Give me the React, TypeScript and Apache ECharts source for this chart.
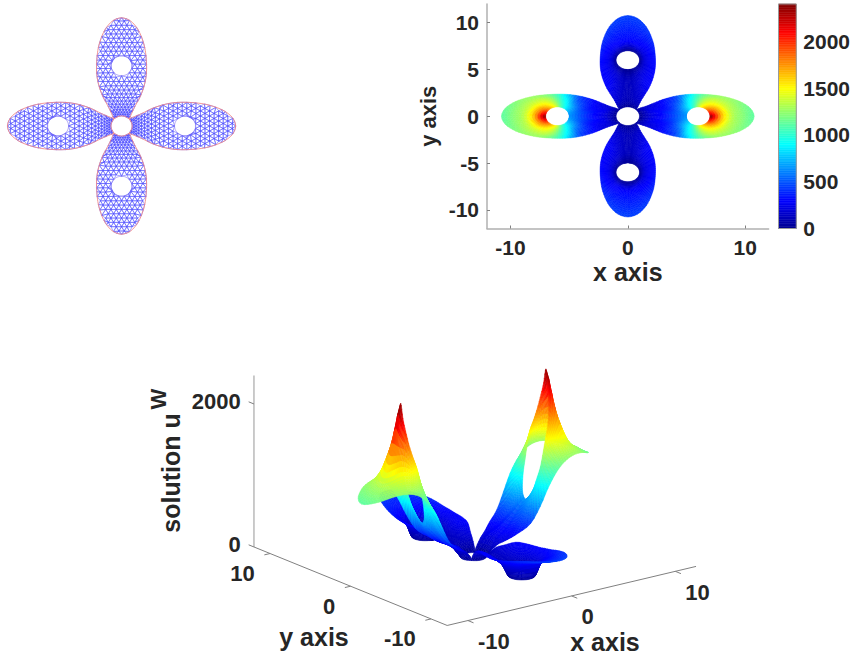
import React, { useEffect, useRef } from "react";
import * as echarts from "echarts";

// ---------- data ----------
const valueMin = 0;
const valueMax = 2400;
const colorbarTicks = [0, 500, 1000, 1500, 2000];
const planXTicks = [-10, 0, 10];
const planYTicks = [-10, -5, 0, 5, 10];
const solidXTicks = [-10, 0, 10];
const solidYTicks = [-10, 0, 10];
const solidZTicks = [0, 2000];

// Top half of one petal, from its tip to where it meets the central hole (axis distance, half width)
const petalAxis = [10.77, 10.48, 9.81, 9.03, 8.02, 7.28, 6.62, 6, 5.37, 4.69, 3.88, 2.97, 2.19, 1.7, 1.05, 0.7];
const petalHalf = [0, 0.81, 1.42, 1.82, 2.14, 2.27, 2.33, 2.36, 2.35, 2.28, 2.1, 1.78, 1.39, 1.14, 0.87, 0.71];
const centralArcAxis = [0.8, 0.92, 0.98, 1];
const centralArcHalf = [0.6, 0.38, 0.19, 0];
const petalHoleAt = 6;
const petalHoleRadius = 1;
const centralRimShare = 0.12; // the surface falls to about this share of its value on the central hole's rim
const centralRimReach = 0.9; // ... over this distance from the rim

// Solution on a petal: rows are angles round the petal's hole (0, 15 ... 180 degrees, 0 = pointing at the tip),
// columns go from the hole's rim (left) to the petal's outline (right).
const xPetalValues = [
  [2400, 1700, 1340, 1220, 1120],
  [2180, 1720, 1380, 1250, 1170],
  [2000, 1720, 1450, 1310, 1240],
  [1820, 1640, 1460, 1340, 1260],
  [1670, 1530, 1420, 1330, 1230],
  [1540, 1420, 1330, 1250, 1160],
  [1350, 1260, 1180, 1110, 1050],
  [1130, 1060, 1000, 950, 890],
  [980, 920, 860, 780, 660],
  [830, 790, 640, 510, 440],
  [740, 640, 490, 390, 320],
  [680, 520, 360, 270, 200],
  [650, 470, 320, 220, 100],
];
const yPetalValues = [
  [20, 280, 350, 400, 450],
  [20, 270, 340, 390, 440],
  [20, 250, 320, 370, 420],
  [20, 210, 290, 340, 390],
  [20, 190, 270, 320, 360],
  [20, 175, 255, 300, 335],
  [20, 170, 250, 290, 320],
  [20, 165, 240, 280, 305],
  [20, 160, 235, 280, 300],
  [20, 160, 235, 280, 300],
  [20, 150, 220, 270, 290],
  [20, 130, 170, 190, 200],
  [20, 120, 125, 120, 100],
];

// ---------- colour map ----------
const jetStops: [number, number[]][] = [
  [0, [0, 0, 143]],
  [0.125, [0, 0, 255]],
  [0.375, [0, 255, 255]],
  [0.625, [255, 255, 0]],
  [0.875, [255, 0, 0]],
  [1, [128, 0, 0]],
];
function jet(v: number) {
  const t = Math.max(0, Math.min(1, (v - valueMin) / (valueMax - valueMin)));
  for (let i = 1; i < jetStops.length; i++) {
    if (t <= jetStops[i][0]) {
      const [a, ca] = jetStops[i - 1];
      const [b, cb] = jetStops[i];
      const k = (t - a) / (b - a);
      return `rgb(${ca.map((c, j) => Math.round(c + (cb[j] - c) * k)).join(",")})`;
    }
  }
  return "rgb(128,0,0)";
}

// ---------- domain built from the outline and the tables ----------
type P = [number, number];
const cr = (a: number, b: number, c: number, d: number, t: number) =>
  0.5 * (2 * b + (c - a) * t + (2 * a - 5 * b + 4 * c - d) * t * t + (3 * b - a - 3 * c + d) * t * t * t);

const OUTLINE_SUB = 3;
function smoothOutline(): P[] {
  const n = petalAxis.length;
  const out: P[] = [];
  for (let i = 0; i < n - 1; i++) {
    const g = (k: number): P => {
      if (k < 0) return [petalAxis[1], -petalHalf[1]];
      return [petalAxis[Math.min(n - 1, k)], petalHalf[Math.min(n - 1, k)]];
    };
    for (let s = 0; s < OUTLINE_SUB; s++) {
      const t = s / OUTLINE_SUB;
      out.push([
        cr(g(i - 1)[0], g(i)[0], g(i + 1)[0], g(i + 2)[0], t),
        cr(g(i - 1)[1], g(i)[1], g(i + 1)[1], g(i + 2)[1], t),
      ]);
    }
  }
  out.push([petalAxis[n - 1], petalHalf[n - 1]]);
  centralArcAxis.forEach((a, i) => out.push([a, centralArcHalf[i]]));
  return out;
}
const topHalf = smoothOutline();
const outlineLoop: P[] = [...topHalf, ...topHalf.slice(1, -1).reverse().map(([a, h]) => [a, -h] as P)];

function meshPoint(col: number, rho: number): P {
  const [a, h] = outlineLoop[((col % outlineLoop.length) + outlineLoop.length) % outlineLoop.length];
  const u = a - petalHoleAt;
  const len = Math.hypot(u, h);
  const ra = petalHoleAt + (u / len) * petalHoleRadius;
  const rh = (h / len) * petalHoleRadius;
  return [ra + (a - ra) * rho, rh + (h - rh) * rho];
}
const angleOf = (p: P) => (Math.atan2(Math.abs(p[1]), p[0] - petalHoleAt) * 180) / Math.PI;

function bicubic(table: number[][], theta: number, rho: number) {
  const tf = (theta / 180) * (table.length - 1);
  const rf = rho * (table[0].length - 1);
  const ti = Math.min(table.length - 2, Math.floor(tf));
  const ri = Math.min(table[0].length - 2, Math.floor(rf));
  const rowAt = (k: number) => table[k < 0 ? -k : k > table.length - 1 ? 2 * (table.length - 1) - k : k];
  const colAt = (row: number[], k: number) => row[Math.max(0, Math.min(row.length - 1, k))];
  const along = (row: number[]) =>
    cr(colAt(row, ri - 1), colAt(row, ri), colAt(row, ri + 1), colAt(row, ri + 2), rf - ri);
  return cr(along(rowAt(ti - 1)), along(rowAt(ti)), along(rowAt(ti + 1)), along(rowAt(ti + 2)), tf - ti);
}

type Place = (a: number, b: number) => P;
const petals: { place: Place; table: number[][] }[] = [
  { place: (a, b) => [a, b], table: xPetalValues },
  { place: (a, b) => [-a, b], table: xPetalValues },
  { place: (a, b) => [b, a], table: yPetalValues },
  { place: (a, b) => [b, -a], table: yPetalValues },
];

const ROWS = 16;
type Cell = { corners: P[]; value: number[]; mean: number };
const cells: Cell[] = [];
petals.forEach(({ place, table }) => {
  const n = outlineLoop.length;
  const valueAt = (col: number, rho: number) => {
    const m = meshPoint(col, rho);
    const near = Math.min(1, Math.max(0, Math.hypot(m[0], m[1]) - 1) / centralRimReach);
    const fall = centralRimShare + (1 - centralRimShare) * Math.sqrt(near);
    return Math.max(valueMin, bicubic(table, angleOf(outlineLoop[col % n]), rho) * fall);
  };
  for (let c = 0; c < n; c++) {
    for (let r = 0; r < ROWS; r++) {
      const r0 = r / ROWS;
      const r1 = (r + 1) / ROWS;
      const pts: [number, number][] = [[c, r0], [c + 1, r0], [c + 1, r1], [c, r1]];
      const value = pts.map(([cc, rr]) => valueAt(cc, rr));
      cells.push({
        corners: pts.map(([cc, rr]) => {
          const m = meshPoint(cc, rr);
          return place(m[0], m[1]);
        }),
        value,
        mean: value.reduce((s, v) => s + v, 0) / 4,
      });
    }
  }
});

const view = { xx: 10.37, xy: -8.05, yx: 2.46, yy: 3.27, z: 0.0715 };
const surfaceShift: P = [-1.7, -1];
const project = (x: number, y: number, z: number): P => [
  view.xx * x + view.xy * y,
  view.yx * x + view.yy * y + view.z * z,
];
const depth = (x: number, y: number, z: number) => -0.583 * x - 0.751 * y + 0.00177 * z;

const solidOrder = cells
  .map((c, i) => {
    const cx = c.corners.reduce((s, p) => s + p[0], 0) / 4;
    const cy = c.corners.reduce((s, p) => s + p[1], 0) / 4;
    return { i, d: depth(cx, cy, c.mean), cx, cy };
  })
  .sort((a, b) => a.d - b.d);

// ---------- triangulation shown in the upper left plot ----------
const EDGE = 0.5;
const ROW_STEP = 0.43;
const BAND = 0.24;
function outlineRadius(theta: number) {
  for (let i = 1; i < topHalf.length; i++) {
    const a0 = angleOf(topHalf[i - 1]);
    const a1 = angleOf(topHalf[i]);
    if (theta <= a1 || i === topHalf.length - 1) {
      const k = a1 === a0 ? 0 : Math.max(0, Math.min(1, (theta - a0) / (a1 - a0)));
      const r0 = Math.hypot(topHalf[i - 1][0] - petalHoleAt, topHalf[i - 1][1]);
      const r1 = Math.hypot(topHalf[i][0] - petalHoleAt, topHalf[i][1]);
      return r0 + (r1 - r0) * k;
    }
  }
  return 5;
}
function latticeNode(i: number, j: number): P | null {
  const w = 4 + i * ROW_STEP;
  const q = w >= 4 ? 0 : Math.min(1, (4 - w) / 5.08);
  const a = w >= 4 ? w : 4 - 5.08 * (q - 0.35 * q * q);
  const scale = 1 - 0.7 * q;
  const b = (j + (i & 1 ? 0.5 : 0)) * EDGE * scale;
  const u = a - petalHoleAt;
  const r = Math.hypot(u, b) || 1e-6;
  const R = outlineRadius((Math.atan2(Math.abs(b), u) * 180) / Math.PI);
  const band = BAND * scale;
  let rr = r;
  if (r < petalHoleRadius - band || r > R + band) return null;
  if (r < petalHoleRadius + band) rr = petalHoleRadius;
  else if (r > R - band) rr = R;
  return [petalHoleAt + (u / r) * rr, (b / r) * rr];
}
const triangles: P[][] = [];
petals.forEach(({ place }) => {
  for (let i = -13; i <= 17; i++) {
    for (let j = -16; j <= 16; j++) {
      const shift = i & 1 ? 1 : 0;
      const p = latticeNode(i, j);
      const q = latticeNode(i, j + 1);
      const s = latticeNode(i + 1, j + shift);
      const t = latticeNode(i + 1, j + shift - 1);
      const mapped = (pts: (P | null)[]) => {
        if (pts.some((x) => !x)) return;
        const m = pts.map((x) => place((x as P)[0], (x as P)[1]));
        triangles.push([...m, m[0]]);
      };
      mapped([p, q, s]);
      mapped([p, s, t]);
    }
  }
});
const holeRims: P[][] = [];
const outerRims: P[][] = [];
petals.forEach(({ place }) => {
  const n = outlineLoop.length;
  const inner: P[] = [];
  const outer: P[] = [];
  for (let c = 0; c <= n; c++) {
    const m0 = meshPoint(c, 0);
    const m1 = meshPoint(c, 1);
    inner.push(place(m0[0], m0[1]));
    outer.push(place(m1[0], m1[1]));
  }
  holeRims.push(inner);
  outerRims.push(outer);
});

const FONT = "Liberation Sans";
const INK = "#262626";

function polygonItem(api: any, corners: number[][], fill: string) {
  return {
    type: "polygon",
    silent: true,
    shape: { points: corners.map((p) => api.coord(p)) },
    style: { fill, stroke: fill, lineWidth: 0.5 },
  };
}
function polylineItem(api: any, pts: number[][], stroke: string, lineWidth: number) {
  return {
    type: "polyline",
    silent: true,
    shape: { points: pts.map((p) => api.coord(p)) },
    style: { stroke, lineWidth, fill: "none" },
  };
}

// ---------- lower plot furniture ----------
const solidLines: { from: number[]; to: number[]; stroke: string; w: number }[] = [
  { from: [-12, 12, 0], to: [-12, 12, 2400], stroke: "#b4b4b4", w: 1.4 },
  { from: [-12, 12, 0], to: [-12, -12, 0], stroke: "#808080", w: 1 },
  { from: [-12, -12, 0], to: [12, -12, 0], stroke: "#808080", w: 1 },
  ...solidZTicks.map((z) => ({ from: [-12, 12, z], to: [-12, 12.66, z], stroke: "#808080", w: 1 })),
  ...solidYTicks.map((y) => ({ from: [-12, y, 0], to: [-12.55, y, 0], stroke: "#808080", w: 1 })),
  ...solidXTicks.map((x) => ({ from: [x, -12, 0], to: [x, -12.7, 0], stroke: "#808080", w: 1 })),
];
const solidLabels = [
  ...solidZTicks.map((z) => ({ at: [-12, 12, z], text: String(z), dx: -13.3, dy: -2, align: "right" })),
  ...solidYTicks.map((y) => ({ at: [-12, y, 0], text: String(y), dx: -15.3, dy: 20, align: "right" })),
  ...solidXTicks.map((x) => ({ at: [x, -12, 0], text: String(x), dx: 10, dy: 21, align: "left" })),
];

function titleText(text: string, x: number, y: number, size: number, rotation = 0) {
  return {
    type: "text",
    x,
    y,
    rotation,
    silent: true,
    style: {
      text,
      fill: INK,
      font: `bold ${size}px "${FONT}"`,
      align: "center",
      verticalAlign: "middle",
      textAlign: "center",
      textVerticalAlign: "middle",
    },
  };
}

function buildOption() {
  const hidden = { show: false };
  const planAxisCommon = {
    type: "value",
    min: -12,
    max: 12,
    axisLine: { show: true, onZero: false, lineStyle: { color: "#b0b0b0", width: 1.5 } },
    splitLine: { show: false },
  };
  return {
    animation: false,
    backgroundColor: "#ffffff",
    grid: [
      { left: 0.7, top: 5.4, width: 241.7, height: 241.2 },
      { left: 487, top: 4, width: 281.6, height: 224.5 },
      { left: 778.5, top: 4, width: 19.5, height: 224.5 },
      { left: 150, top: 370, width: 600, height: 287 },
    ],
    xAxis: [
      { gridIndex: 0, type: "value", min: -11.4, max: 11.4, ...hidden },
      {
        ...planAxisCommon,
        gridIndex: 1,
        name: "x axis",
        nameLocation: "middle",
        nameGap: 31,
        nameTextStyle: { color: INK, fontFamily: FONT, fontWeight: "bold", fontSize: 25 },
        axisTick: { inside: true, length: 3, lineStyle: { color: "#808080" }, customValues: planXTicks },
        axisLabel: { color: INK, fontFamily: FONT, fontWeight: "bold", fontSize: 21, margin: 8, customValues: planXTicks, formatter: (v: number) => String(v) },
      },
      { gridIndex: 2, type: "value", min: 0, max: 1, ...hidden },
      { gridIndex: 3, type: "value", min: -325, max: 275, ...hidden },
    ],
    yAxis: [
      { gridIndex: 0, type: "value", min: -12, max: 12, ...hidden },
      {
        ...planAxisCommon,
        gridIndex: 1,
        name: "y axis",
        nameLocation: "middle",
        nameGap: 48,
        nameTextStyle: { color: INK, fontFamily: FONT, fontWeight: "bold", fontSize: 22 },
        axisTick: { inside: true, length: 3, lineStyle: { color: "#808080" }, customValues: planYTicks },
        axisLabel: { color: INK, fontFamily: FONT, fontWeight: "bold", fontSize: 21, margin: 8, customValues: planYTicks, formatter: (v: number) => String(v) },
      },
      {
        gridIndex: 2,
        type: "value",
        min: valueMin,
        max: valueMax,
        position: "right",
        axisLine: { show: false },
        axisTick: { show: false },
        splitLine: { show: false },
        axisLabel: { color: INK, fontFamily: FONT, fontWeight: "bold", fontSize: 21, margin: 7, customValues: colorbarTicks, formatter: (v: number) => String(v) },
      },
      { gridIndex: 3, type: "value", min: -100.3, max: 186.7, ...hidden },
    ],
    series: [
      // mesh
      {
        type: "custom",
        coordinateSystem: "cartesian2d",
        xAxisIndex: 0,
        yAxisIndex: 0,
        silent: true,
        data: triangles.map((_, i) => [0, 0, i]),
        renderItem: (_p: any, api: any) => polylineItem(api, triangles[api.value(2)], "#4a4aff", 0.5),
      },
      {
        type: "custom",
        coordinateSystem: "cartesian2d",
        xAxisIndex: 0,
        yAxisIndex: 0,
        silent: true,
        data: holeRims.map((_, i) => [0, 0, i]),
        renderItem: (_p: any, api: any) => polylineItem(api, holeRims[api.value(2)], "#8a7af0", 0.7),
      },
      {
        type: "custom",
        coordinateSystem: "cartesian2d",
        xAxisIndex: 0,
        yAxisIndex: 0,
        silent: true,
        data: outerRims.map((_, i) => [0, 0, i]),
        renderItem: (_p: any, api: any) => polylineItem(api, outerRims[api.value(2)], "#f08a8a", 0.9),
      },
      // plan view
      {
        type: "custom",
        coordinateSystem: "cartesian2d",
        xAxisIndex: 1,
        yAxisIndex: 1,
        silent: true,
        data: cells.map((c, i) => [c.corners[0][0], c.corners[0][1], c.mean, i]),
        renderItem: (_p: any, api: any) => {
          const c = cells[api.value(3)];
          return polygonItem(api, c.corners, jet(c.mean));
        },
      },
      // colour bar
      {
        type: "custom",
        coordinateSystem: "cartesian2d",
        xAxisIndex: 2,
        yAxisIndex: 2,
        silent: true,
        data: Array.from({ length: 128 }, (_, i) => [0, (i / 128) * valueMax, ((i + 1) / 128) * valueMax]),
        renderItem: (_p: any, api: any) => {
          const lo = api.value(1);
          const hi = api.value(2);
          return polygonItem(api, [[0, lo], [1, lo], [1, hi], [0, hi]], jet((lo + hi) / 2));
        },
      },
      {
        type: "custom",
        coordinateSystem: "cartesian2d",
        xAxisIndex: 2,
        yAxisIndex: 2,
        silent: true,
        data: [[0, 0]],
        renderItem: (_p: any, api: any) =>
          polylineItem(api, [[0, valueMin], [1, valueMin], [1, valueMax], [0, valueMax], [0, valueMin]], "#9a9a9a", 1),
      },
      // solid: axes
      {
        type: "custom",
        coordinateSystem: "cartesian2d",
        xAxisIndex: 3,
        yAxisIndex: 3,
        silent: true,
        data: solidLines.map((_, i) => [0, 0, i]),
        renderItem: (_p: any, api: any) => {
          const l = solidLines[api.value(2)];
          return polylineItem(api, [project(l.from[0], l.from[1], l.from[2]), project(l.to[0], l.to[1], l.to[2])], l.stroke, l.w);
        },
      },
      // solid: surface, far cells first
      {
        type: "custom",
        coordinateSystem: "cartesian2d",
        xAxisIndex: 3,
        yAxisIndex: 3,
        silent: true,
        data: solidOrder.map((o) => [o.cx, o.cy, cells[o.i].mean, o.i]),
        renderItem: (_p: any, api: any) => {
          const c = cells[api.value(3)];
          return polygonItem(
            api,
            c.corners.map((p, k) => {
              const s = project(p[0], p[1], c.value[k]);
              return [s[0] + surfaceShift[0], s[1] + surfaceShift[1]];
            }),
            jet(c.mean),
          );
        },
      },
      // solid: tick labels
      {
        type: "custom",
        coordinateSystem: "cartesian2d",
        xAxisIndex: 3,
        yAxisIndex: 3,
        silent: true,
        data: solidLabels.map((_, i) => [0, 0, i]),
        renderItem: (_p: any, api: any) => {
          const l = solidLabels[api.value(2)];
          const p = api.coord(project(l.at[0], l.at[1], l.at[2]));
          return {
            type: "text",
            x: p[0] + l.dx,
            y: p[1] + l.dy,
            silent: true,
            style: {
              text: l.text,
              fill: INK,
              font: `bold 22px "${FONT}"`,
              align: l.align,
              verticalAlign: "middle",
              textAlign: l.align,
              textVerticalAlign: "middle",
            },
          };
        },
      },
    ],
    graphic: [
      titleText("solution u", 170.5, 473, 25, Math.PI / 2),
      titleText("W", 158, 399, 22, Math.PI / 2),
      titleText("y axis", 314, 637, 25),
      titleText("x axis", 605, 642, 25),
    ],
  };
}

export default function App() {
  const ref = useRef<HTMLDivElement>(null);
  useEffect(() => {
    document.body.style.margin = "0";
    const chart = echarts.init(ref.current!, undefined, { renderer: "svg" });
    chart.setOption(buildOption() as any);
    return () => chart.dispose();
  }, []);
  return <div ref={ref} style={{ width: 853, height: 657, background: "#fff" }} />;
}
